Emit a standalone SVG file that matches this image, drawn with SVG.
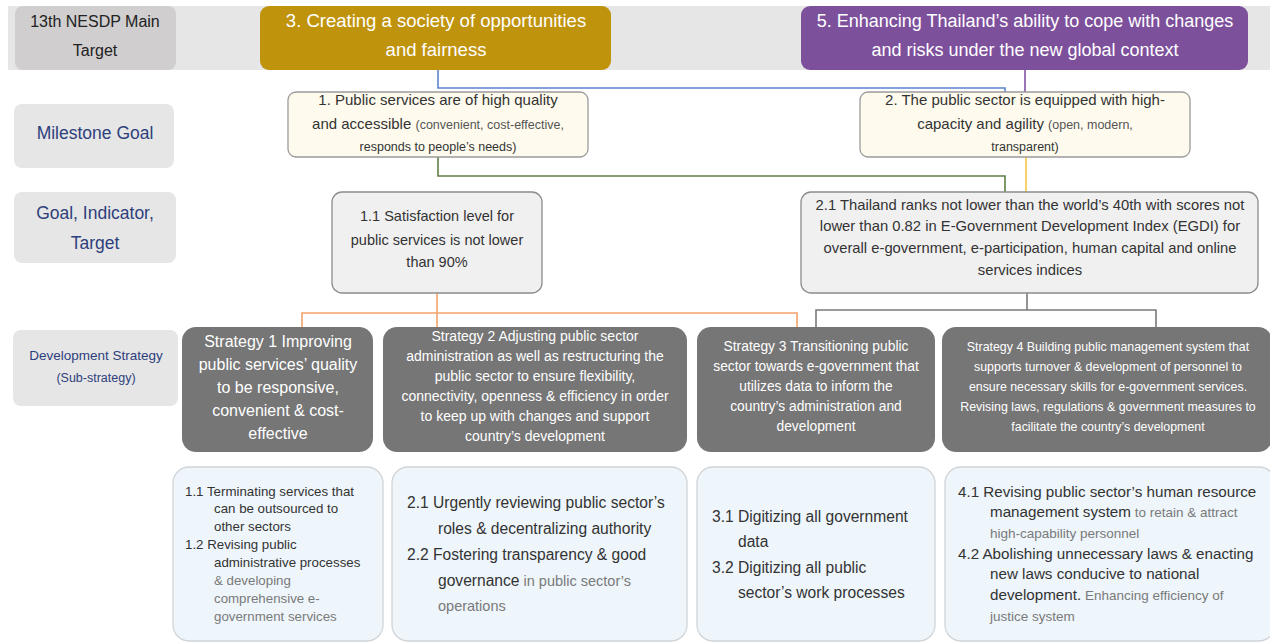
<svg xmlns="http://www.w3.org/2000/svg" width="1270" height="642" viewBox="0 0 1270 642">
  <style>
    text { font-family: "Liberation Sans", Arial, sans-serif; }
    .lbl { fill: #e6e6e6; }
    .lbltxt { fill: #2e3f7c; text-anchor: middle; }
    .ms { fill: #fefbee; stroke: #9a9a9a; stroke-width: 1.3; }
    .ind { fill: #f0f0f0; stroke: #8c8c8c; stroke-width: 1.3; }
    .strat { fill: #767676; }
    .strattxt { fill: #ffffff; text-anchor: middle; }
    .sub { fill: #eef5fb; stroke: #d0d4d8; stroke-width: 1.3; }
    .dk { fill: #333333; }
    .gr { fill: #7a7a7a; }
    .mid { text-anchor: middle; fill: #333333; }
    .conn { fill: none; stroke-width: 1.6; }
  </style>

  <!-- header band -->
  <rect x="8" y="6" width="1262" height="64" fill="#e6e6e6"/>

  <g id="row-main-target">
    <rect x="15" y="6" width="161" height="64" rx="8" fill="#d0cecf"/>
    <text x="95" y="27" font-size="16" fill="#222" text-anchor="middle">13th NESDP Main</text>
    <text x="95" y="56" font-size="16" fill="#222" text-anchor="middle">Target</text>
  </g>

  <g id="row-milestone">
    <rect class="lbl" x="14" y="104" width="160" height="64" rx="8"/>
    <text class="lbltxt" x="95" y="139" font-size="17.5">Milestone Goal</text>
  </g>

  <g id="row-indicator">
    <rect class="lbl" x="14" y="192" width="162" height="71" rx="8"/>
    <text class="lbltxt" x="95" y="219" font-size="17.5">Goal, Indicator,</text>
    <text class="lbltxt" x="95" y="249" font-size="17.5">Target</text>
  </g>

  <g id="row-strategy">
    <rect class="lbl" x="13" y="330" width="165" height="76" rx="8"/>
    <text class="lbltxt" x="96" y="360" font-size="13.5">Development Strategy</text>
    <text class="lbltxt" x="96" y="382" font-size="12.5">(Sub-strategy)</text>
  </g>

  <!-- connectors -->
  <g id="connectors">
    <path class="conn" stroke="#5b84d0" d="M438,70 V88 H1005 V92"/>
    <path class="conn" stroke="#8052a8" d="M1025,70 V92"/>
    <path class="conn" stroke="#5f7f45" d="M438,157 V176 H1005 V192"/>
    <path class="conn" stroke="#f5c842" d="M1026,157 V192"/>
    <path class="conn" stroke="#f4a46a" d="M437,293 V313 M302,327 V313 H797 V327 M437,313 V327"/>
    <path class="conn" stroke="#7a7a7a" d="M1027,293 V310 M816,327 V310 H1156 V327"/>
  </g>

  <g id="target-3">
    <rect x="260" y="6" width="351" height="64" rx="9" fill="#c0930d"/>
    <text x="436" y="27" font-size="18.5" fill="#fff" text-anchor="middle">3. Creating a society of opportunities</text>
    <text x="436" y="56" font-size="18.5" fill="#fff" text-anchor="middle">and fairness</text>
  </g>

  <g id="target-5">
    <rect x="801" y="6" width="447" height="64" rx="9" fill="#7d509c"/>
    <text x="1025" y="27" font-size="18" fill="#fff" text-anchor="middle">5. Enhancing Thailand’s ability to cope with changes</text>
    <text x="1025" y="56" font-size="18" fill="#fff" text-anchor="middle">and risks under the new global context</text>
  </g>

  <g id="milestone-1">
    <rect class="ms" x="288" y="92" width="300" height="65" rx="8"/>
    <text class="mid" x="438" y="105" font-size="15">1. Public services are of high quality</text>
    <text class="mid" x="438" y="129" font-size="15">and accessible <tspan font-size="12.5" fill="#555">(convenient, cost-effective,</tspan></text>
    <text class="mid" x="438" y="151" font-size="12.5" fill="#555">responds to people’s needs)</text>
  </g>

  <g id="milestone-2">
    <rect class="ms" x="860" y="92" width="330" height="65" rx="8"/>
    <text class="mid" x="1025" y="105" font-size="15">2. The public sector is equipped with high-</text>
    <text class="mid" x="1025" y="129" font-size="15">capacity and agility <tspan font-size="12.5" fill="#555">(open, modern,</tspan></text>
    <text class="mid" x="1025" y="151" font-size="12.5" fill="#555">transparent)</text>
  </g>

  <g id="indicator-1-1">
    <rect class="ind" x="332" y="192" width="210" height="101" rx="10"/>
    <text class="mid" x="437" y="221" font-size="14.5">1.1 Satisfaction level for</text>
    <text class="mid" x="437" y="245" font-size="14.5">public services is not lower</text>
    <text class="mid" x="437" y="267" font-size="14.5">than 90%</text>
  </g>

  <g id="indicator-2-1">
    <rect class="ind" x="801" y="192" width="457" height="101" rx="10"/>
    <text class="mid" x="1030" y="210" font-size="14.8">2.1 Thailand ranks not lower than the world’s 40th with scores not</text>
    <text class="mid" x="1030" y="231" font-size="14.8">lower than 0.82 in E-Government Development Index (EGDI) for</text>
    <text class="mid" x="1030" y="253" font-size="14.8">overall e-government, e-participation, human capital and online</text>
    <text class="mid" x="1030" y="275" font-size="14.8">services indices</text>
  </g>

  <g id="strategy-1">
    <rect class="strat" x="182" y="327" width="191" height="125" rx="14"/>
    <text class="strattxt" x="278" y="347" font-size="16">Strategy 1 Improving</text>
    <text class="strattxt" x="278" y="370" font-size="16">public services’ quality</text>
    <text class="strattxt" x="278" y="393" font-size="16">to be responsive,</text>
    <text class="strattxt" x="278" y="416" font-size="16">convenient &amp; cost-</text>
    <text class="strattxt" x="278" y="439" font-size="16">effective</text>
  </g>

  <g id="strategy-2">
    <rect class="strat" x="383" y="327" width="304" height="125" rx="14"/>
    <text class="strattxt" x="535" y="341" font-size="14">Strategy 2 Adjusting public sector</text>
    <text class="strattxt" x="535" y="361" font-size="14">administration as well as restructuring the</text>
    <text class="strattxt" x="535" y="381" font-size="14">public sector to ensure flexibility,</text>
    <text class="strattxt" x="535" y="401" font-size="14">connectivity, openness &amp;  efficiency in order</text>
    <text class="strattxt" x="535" y="421" font-size="14">to keep up with changes and support</text>
    <text class="strattxt" x="535" y="441" font-size="14">country’s development</text>
  </g>

  <g id="strategy-3">
    <rect class="strat" x="697" y="327" width="238" height="125" rx="14"/>
    <text class="strattxt" x="816" y="351" font-size="13.8">Strategy 3 Transitioning public</text>
    <text class="strattxt" x="816" y="371" font-size="13.8">sector towards e-government that</text>
    <text class="strattxt" x="816" y="391" font-size="13.8">utilizes data to inform the</text>
    <text class="strattxt" x="816" y="411" font-size="13.8">country’s administration and</text>
    <text class="strattxt" x="816" y="431" font-size="13.8">development</text>
  </g>

  <g id="strategy-4">
    <rect class="strat" x="942" y="327" width="330" height="125" rx="14"/>
    <text class="strattxt" x="1108" y="351" font-size="12.4">Strategy 4 Building public management system that</text>
    <text class="strattxt" x="1108" y="371" font-size="12.4">supports turnover &amp; development of personnel to</text>
    <text class="strattxt" x="1108" y="391" font-size="12.4">ensure necessary skills for e-government services.</text>
    <text class="strattxt" x="1108" y="411" font-size="12.4">Revising laws, regulations &amp; government measures to</text>
    <text class="strattxt" x="1108" y="431" font-size="12.4">facilitate the country’s development</text>
  </g>

  <g id="substrategy-1">
    <rect class="sub" x="173" y="467" width="210" height="174" rx="16"/>
    <text class="dk" x="185" y="496" font-size="13.3">1.1 Terminating services that</text>
    <text class="dk" x="214" y="513" font-size="13.3">can be outsourced to</text>
    <text class="dk" x="214" y="531" font-size="13.3">other sectors</text>
    <text class="dk" x="185" y="549" font-size="13.3">1.2 Revising public</text>
    <text class="dk" x="214" y="567" font-size="13.3">administrative processes</text>
    <text class="gr" x="214" y="585" font-size="13.3">&amp; developing</text>
    <text class="gr" x="214" y="603" font-size="13.3">comprehensive e-</text>
    <text class="gr" x="214" y="621" font-size="13.3">government services</text>
  </g>

  <g id="substrategy-2">
    <rect class="sub" x="392" y="467" width="295" height="174" rx="16"/>
    <text class="dk" x="407" y="508" font-size="15.6">2.1 Urgently reviewing public sector’s</text>
    <text class="dk" x="438" y="534" font-size="15.6">roles &amp; decentralizing authority</text>
    <text class="dk" x="407" y="560" font-size="15.6">2.2 Fostering transparency &amp; good</text>
    <text class="dk" x="438" y="586" font-size="15.6">governance<tspan class="gr" font-size="14.5"> in public sector’s</tspan></text>
    <text class="gr" x="438" y="611" font-size="14.5">operations</text>
  </g>

  <g id="substrategy-3">
    <rect class="sub" x="697" y="467" width="238" height="174" rx="16"/>
    <text class="dk" x="712" y="522" font-size="15.6">3.1 Digitizing all government</text>
    <text class="dk" x="738" y="547" font-size="15.6">data</text>
    <text class="dk" x="712" y="573" font-size="15.6">3.2 Digitizing all public</text>
    <text class="dk" x="738" y="598" font-size="15.6">sector’s work processes</text>
  </g>

  <g id="substrategy-4">
    <rect class="sub" x="945" y="467" width="330" height="174" rx="16"/>
    <text class="dk" x="958" y="497" font-size="15.2">4.1 Revising public sector’s human resource</text>
    <text class="dk" x="990" y="517" font-size="15.2">management system<tspan class="gr" font-size="13.5"> to retain &amp; attract</tspan></text>
    <text class="gr" x="990" y="538" font-size="13.5">high-capability personnel</text>
    <text class="dk" x="958" y="559" font-size="15.2">4.2 Abolishing unnecessary laws &amp; enacting</text>
    <text class="dk" x="990" y="579" font-size="15.2">new laws conducive to national</text>
    <text class="dk" x="990" y="600" font-size="15.2">development.<tspan class="gr" font-size="13.5"> Enhancing efficiency of</tspan></text>
    <text class="gr" x="990" y="621" font-size="13.5">justice system</text>
  </g>
</svg>
